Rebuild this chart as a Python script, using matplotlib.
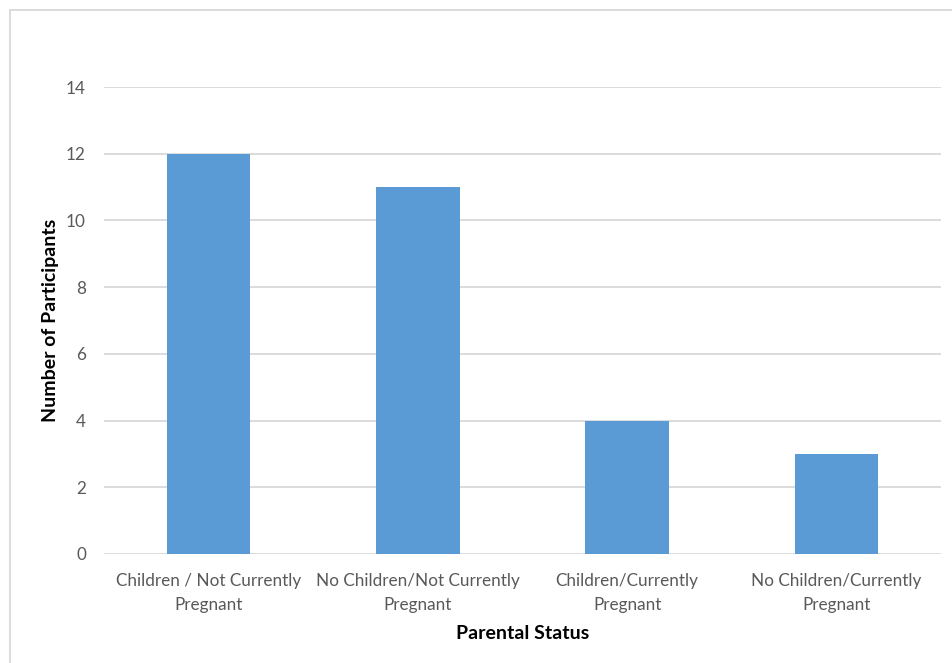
import matplotlib
matplotlib.use("Agg")
import matplotlib.pyplot as plt
from matplotlib.patches import Rectangle

categories = ["Children / Not Currently\nPregnant", "No Children/Not Currently\nPregnant",
              "Children/Currently\nPregnant", "No Children/Currently\nPregnant"]
values = [12, 11, 4, 3]
yticks = [0, 2, 4, 6, 8, 10, 12, 14]

plt.rcParams['font.family'] = ['Lato', 'DejaVu Sans']
W, H = 952, 663
fig = plt.figure(figsize=(W/100, H/100), dpi=100)
ax = fig.add_axes([104/W, 1-554/H, (941-104)/W, (554-87)/H])

x = list(range(len(categories)))
ax.bar(x, values, width=0.4, color="#5B9BD5", zorder=3)
ax.set_xlim(-0.5, len(categories)-0.5)
ax.set_ylim(0, 14)
ax.set_yticks(yticks)
ax.set_xticks(x)
ax.set_xticklabels(categories, fontsize=12.3, color="#595959", linespacing=1.55)
ax.tick_params(axis='y', labelsize=12.3, labelcolor="#595959", length=0, pad=13)
ax.tick_params(axis='x', length=0, pad=14)
ax.grid(axis='y', color="#D9D9D9", linewidth=1.3, zorder=0)
for s in ax.spines.values():
    s.set_visible(False)
ax.set_ylabel("Number of Participants", fontsize=14, fontweight='bold', color="black", labelpad=5)
ax.set_xlabel("Parental Status", fontsize=14, fontweight='bold', color="black", labelpad=9)

fig.patches.append(Rectangle((10/W, -0.1), 1.5, 1.1 - 10/H, transform=fig.transFigure,
                             fill=False, edgecolor="#D9D9D9", linewidth=1.3))
fig.savefig("out.png", dpi=100)
